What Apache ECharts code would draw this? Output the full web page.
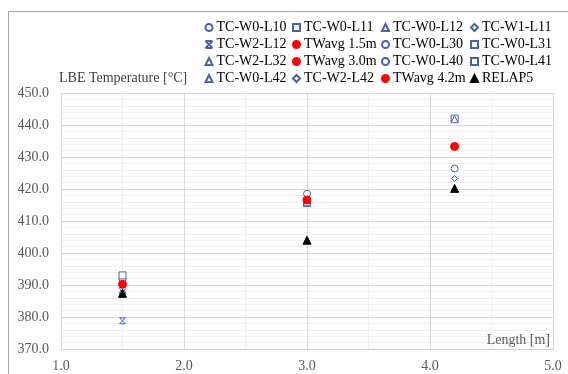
<!DOCTYPE html>
<html>
<head>
<meta charset="utf-8">
<script src="https://cdn.jsdelivr.net/npm/echarts@6/dist/echarts.min.js"></script>
<style>
  html, body { margin: 0; padding: 0; background: #fff; }
  #chart { width: 568px; height: 374px; }
</style>
</head>
<body>
<div id="chart"></div>
<script>
// series names, row by row as in the legend
var seriesNames = [
  'TC-W0-L10', 'TC-W0-L11', 'TC-W0-L12', 'TC-W1-L11',
  'TC-W2-L12', 'TWavg 1.5m', 'TC-W0-L30', 'TC-W0-L31',
  'TC-W2-L32', 'TWavg 3.0m', 'TC-W0-L40', 'TC-W0-L41',
  'TC-W0-L42', 'TC-W2-L42', 'TWavg 4.2m', 'RELAP5'
];
// measuring length of each series [m]
var seriesLength = [
  1.5, 1.5, 1.5, 1.5,
  1.5, 1.5, 3.0, 3.0,
  3.0, 3.0, 4.2, 4.2,
  4.2, 4.2, 4.2, null
];
// LBE temperature [°C]
var seriesTemp = [
  391.8, 393.0, 388.3, 388.8,
  378.8, 390.2, 418.5, 415.6,
  416.0, 416.6, 426.4, 442.0,
  441.8, 423.3, 433.3, null
];
var relapLength = [1.5, 3.0, 4.2];
var relapTemp = [387.4, 404.0, 420.2];

var xTicks = [1.0, 2.0, 3.0, 4.0, 5.0];
var yTicks = [370, 380, 390, 400, 410, 420, 430, 440, 450];

var blue = '#4a62a6';
var starPath = 'path://M0,0L10,10M10,0L0,10M0,0L10,0M0,10L10,10';

function markerOf(name) {
  if (name === 'RELAP5') return { symbol: 'triangle', size: 8, fill: '#000', border: '#000' };
  if (name.indexOf('TWavg') === 0) return { symbol: 'circle', size: 8, fill: '#ff0000', border: '#ff0000' };
  if (name === 'TC-W2-L12') return { symbol: starPath, size: 6, fill: 'none', border: blue };
  var sym = {
    'TC-W0-L10': 'circle', 'TC-W0-L30': 'circle', 'TC-W0-L40': 'circle',
    'TC-W0-L11': 'rect', 'TC-W0-L31': 'rect', 'TC-W0-L41': 'rect',
    'TC-W0-L12': 'triangle', 'TC-W2-L32': 'triangle', 'TC-W0-L42': 'triangle',
    'TC-W1-L11': 'diamond', 'TC-W2-L42': 'diamond'
  }[name];
  return { symbol: sym, size: sym === 'diamond' ? 6 : 7, fill: '#fff', border: blue };
}

var series = [];
seriesNames.forEach(function (name, i) {
  var m = markerOf(name);
  var data = name === 'RELAP5'
    ? relapLength.map(function (x, k) { return [x, relapTemp[k]]; })
    : [[seriesLength[i], seriesTemp[i]]];
  series.push({
    name: name,
    type: 'scatter',
    data: data,
    symbol: m.symbol,
    symbolSize: m.size,
    itemStyle: { color: m.fill, borderColor: m.border, borderWidth: 1, opacity: 1 },
    emphasis: { disabled: true },
    z: name.indexOf('TWavg') === 0 || name === 'RELAP5' ? 3 : 2
  });
});

// four legend columns, items go row by row
var colLeft = [203, 292, 381, 470];
var legends = colLeft.map(function (left, c) {
  var names = [];
  for (var r = 0; r < 4; r++) names.push(seriesNames[r * 4 + c]);
  return {
    orient: 'vertical',
    left: left,
    top: 19,
    itemWidth: 7,
    itemHeight: 7,
    itemGap: 0,
    padding: 0,
    data: names,
    selectedMode: false,
    textStyle: {
      fontFamily: 'Liberation Serif',
      fontSize: 14,
      color: '#000',
      lineHeight: 17,
      padding: [0, 0, 0, -1]
    }
  };
});

var axisFont = { fontFamily: 'Liberation Serif', fontSize: 14, color: '#595959' };

var option = {
  animation: false,
  backgroundColor: '#fff',
  legend: legends,
  grid: { left: 61, top: 93, right: 15, bottom: 25 },
  xAxis: {
    type: 'value',
    min: xTicks[0],
    max: xTicks[xTicks.length - 1],
    interval: 1,
    name: 'Length [m]',
    nameLocation: 'end',
    nameGap: -3,
    nameTextStyle: {
      fontFamily: 'Liberation Serif', fontSize: 14, color: '#595959',
      align: 'right', verticalAlign: 'bottom', padding: [0, 0, 2, 0]
    },
    axisLine: { show: true, lineStyle: { color: '#d0d0d0' } },
    axisTick: { show: false },
    axisLabel: Object.assign({ margin: 10, formatter: function (v) { return v.toFixed(1); } }, axisFont),
    splitLine: { show: true, lineStyle: { color: '#d9d9d9' } },
    minorTick: { show: false, splitNumber: 2 },
    minorSplitLine: { show: true, lineStyle: { color: '#efefef' } }
  },
  yAxis: {
    type: 'value',
    min: yTicks[0],
    max: yTicks[yTicks.length - 1],
    interval: 10,
    name: 'LBE Temperature [°C]',
    nameLocation: 'end',
    nameGap: 8,
    nameTextStyle: {
      fontFamily: 'Liberation Serif', fontSize: 14, color: '#404040', align: 'left',
      padding: [0, 0, 0, -2]
    },
    axisLine: { show: true, lineStyle: { color: '#d9d9d9' } },
    axisTick: { show: false },
    axisLabel: Object.assign({ margin: 12, formatter: function (v) { return v.toFixed(1); } }, axisFont),
    splitLine: { show: true, lineStyle: { color: '#d9d9d9' } },
    minorTick: { show: false, splitNumber: 5 },
    minorSplitLine: { show: true, lineStyle: { color: '#efefef' } }
  },
  graphic: [{
    type: 'rect',
    silent: true,
    shape: { x: 8.5, y: 11.5, width: 600, height: 400 },
    style: { fill: 'none', stroke: '#a6a6a6', lineWidth: 1 }
  }],
  series: series
};

var myChart = echarts.init(document.getElementById('chart'));
myChart.setOption(option);
</script>
</body>
</html>
